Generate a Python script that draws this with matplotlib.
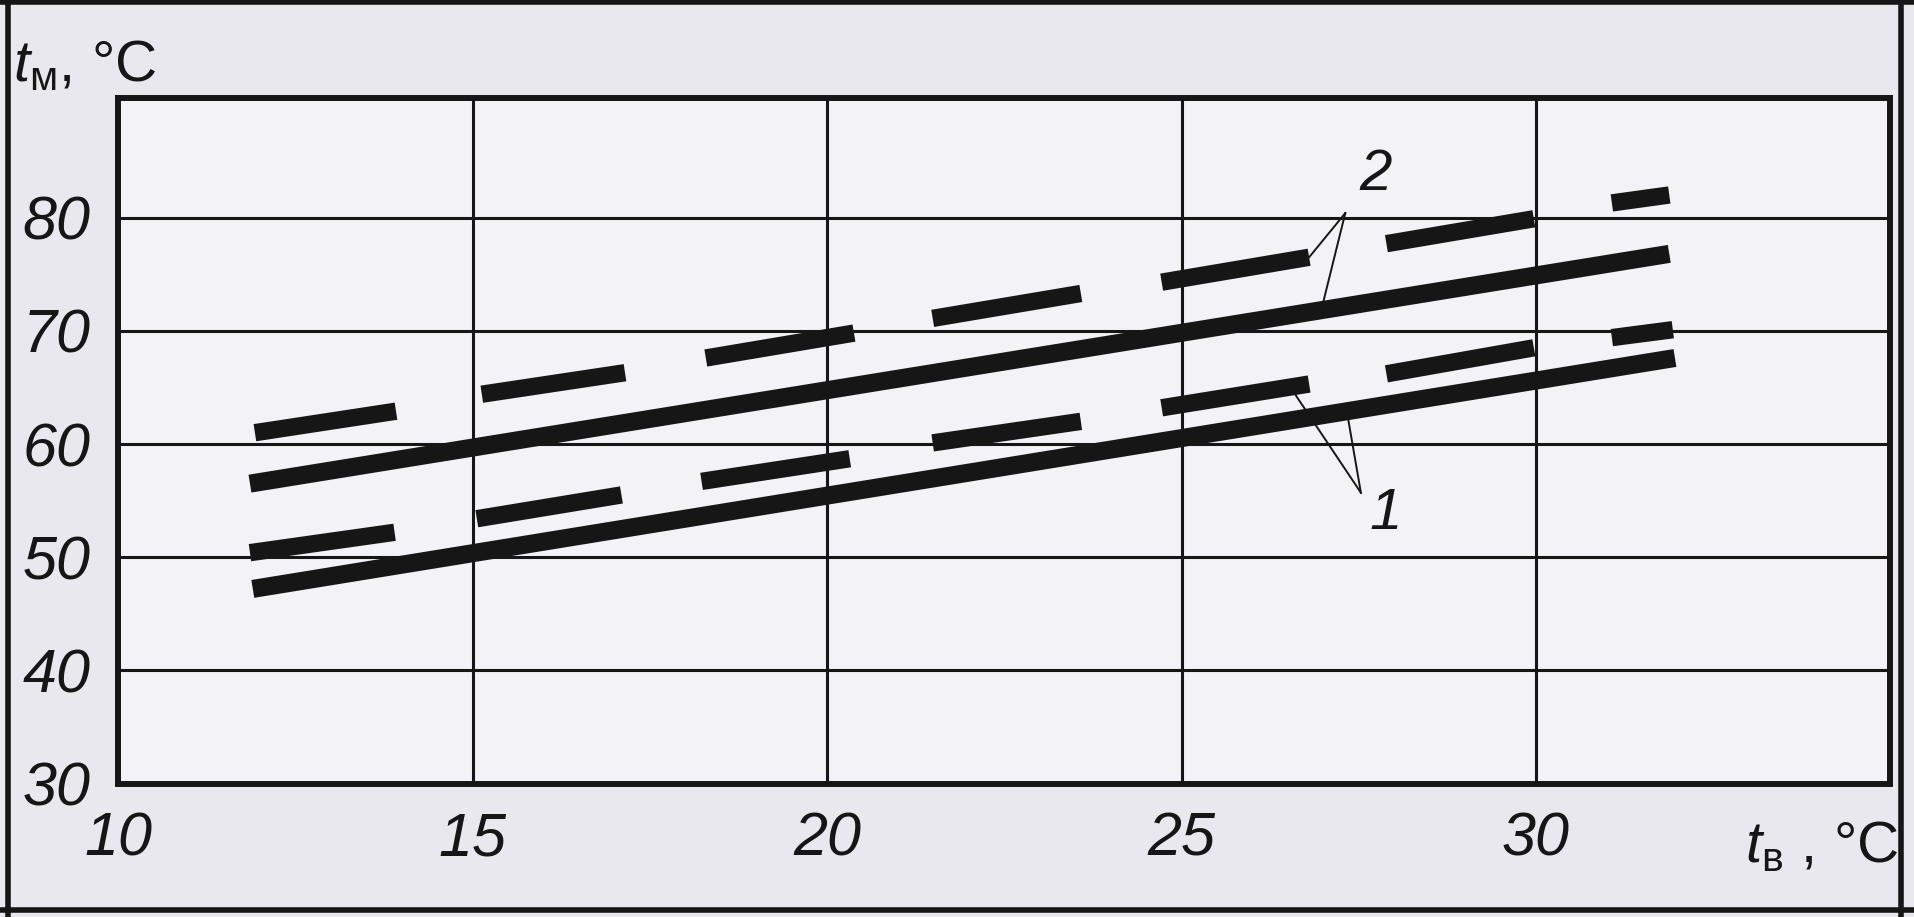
import matplotlib
matplotlib.use('Agg')
import matplotlib.pyplot as plt
from matplotlib.lines import Line2D

plt.rcParams['font.family'] = ['Liberation Sans', 'DejaVu Sans']
plt.rcParams['mathtext.fontset'] = 'custom'
plt.rcParams['mathtext.it'] = 'Liberation Sans:italic'
plt.rcParams['mathtext.rm'] = 'Liberation Sans'

# x: t_в, °C ; y: t_м, °C
x_ticks = [10, 15, 20, 25, 30]
y_ticks = [30, 40, 50, 60, 70, 80]

# solid lines 1 and 2 (end points)
line1_x = [11.90, 31.96]
line1_y = [47.2, 67.6]
line2_x = [11.86, 31.88]
line2_y = [56.5, 76.8]

# dashed line above line 2
upper_x0 = [11.93, 15.13, 18.29, 21.49, 24.72, 27.89, 31.07]
upper_x1 = [13.92, 17.15, 20.38, 23.58, 26.80, 29.97, 31.88]
upper_y0 = [61.0, 64.4, 67.6, 71.1, 74.3, 77.7, 81.3]
upper_y1 = [62.9, 66.3, 69.8, 73.3, 76.5, 79.9, 82.0]

# dashed line above line 1
mid_x0 = [11.86, 15.06, 18.23, 21.49, 24.72, 27.89, 31.07]
mid_x1 = [13.90, 17.10, 20.32, 23.58, 26.80, 29.97, 31.93]
mid_y0 = [50.4, 53.4, 56.7, 60.1, 63.2, 66.2, 69.4]
mid_y1 = [52.2, 55.5, 58.7, 62.0, 65.3, 68.5, 70.1]

# curve labels with leader lines: (label, x, y, apex, targets)
label2 = ('2', 27.74, 83.8, (27.31, 80.4), [(26.80, 76.5), (26.99, 72.3)])
label1 = ('1', 27.88, 53.8, (27.53, 55.7), [(26.58, 64.6), (27.34, 62.6)])

ink = '#161616'
bg = '#e9e8ee'

fig = plt.figure(figsize=(19.14, 9.17), dpi=100, facecolor=bg)
ax = fig.add_axes([0.0617, 0.1455, 0.926, 0.748])
ax.set_facecolor('#f3f2f7')
ax.set_xlim(10, 35)
ax.set_ylim(30, 90.6)

ax.set_xticks(x_ticks)
ax.set_yticks(y_ticks)
ax.grid(True, color=ink, lw=2.2)
ax.set_axisbelow(True)
ax.tick_params(length=0, labelsize=44, colors=ink)
ax.tick_params(axis='y', pad=20)
ax.tick_params(axis='x', pad=20)
for lab in ax.get_xticklabels() + ax.get_yticklabels():
    lab.set_fontstyle('italic')
for sp in ax.spines.values():
    sp.set_linewidth(4.3)
    sp.set_color(ink)

ax.plot(line1_x, line1_y, color=ink, lw=13, solid_capstyle='butt')
ax.plot(line2_x, line2_y, color=ink, lw=13, solid_capstyle='butt')
for x0, x1, y0, y1 in zip(upper_x0, upper_x1, upper_y0, upper_y1):
    ax.plot([x0, x1], [y0, y1], color=ink, lw=12.5, solid_capstyle='butt')
for x0, x1, y0, y1 in zip(mid_x0, mid_x1, mid_y0, mid_y1):
    ax.plot([x0, x1], [y0, y1], color=ink, lw=12.5, solid_capstyle='butt')

for txt, tx, ty, apex, targets in [label2, label1]:
    ax.text(tx, ty, txt, fontsize=42, fontstyle='italic', color=ink,
            ha='center', va='center')
    for px, py in targets:
        ax.plot([apex[0], px], [apex[1], py], color=ink, lw=1.4)

# axis titles
fig.text(0.007, 0.912, r'$t_{\mathregular{м}}$, °C', fontsize=42, color=ink,
         ha='left', va='baseline')
fig.text(0.992, 0.06, r'$t_{\mathregular{в}}$ , °C', fontsize=42, color=ink,
         ha='right', va='baseline')

# scan frame around the figure
for xs, ys in [([0.004, 0.004], [0.0, 1.0]), ([0.0, 1.0], [0.008, 0.008]),
               ([0.993, 0.993], [0.0, 1.0]), ([0.0, 1.0], [0.998, 0.998])]:
    fig.add_artist(Line2D(xs, ys, color=ink, lw=4, transform=fig.transFigure))

fig.savefig('out.png', dpi=100, facecolor=bg)
